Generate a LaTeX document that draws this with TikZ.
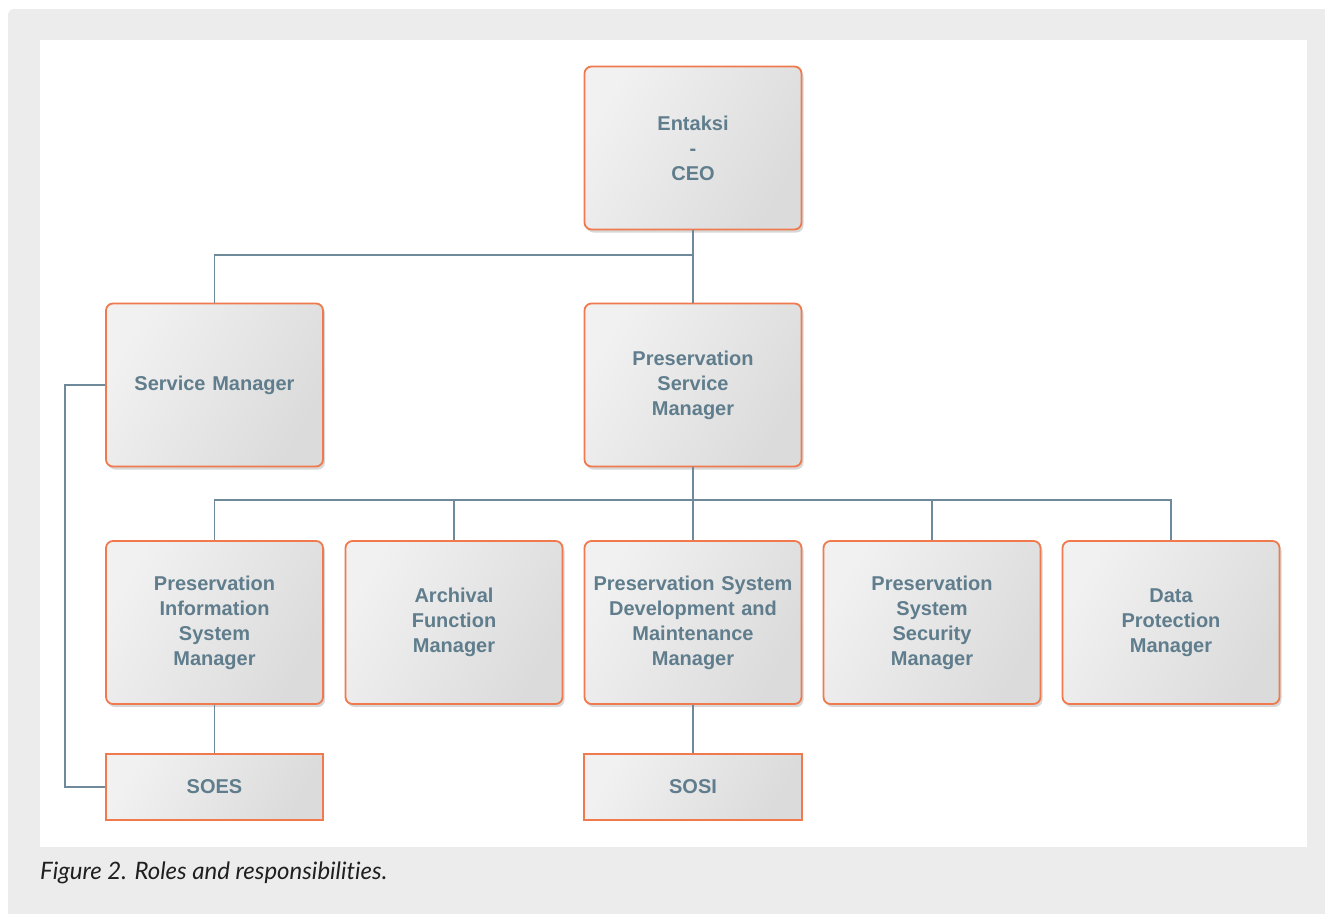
\documentclass[tikz,border=0pt]{standalone}
\usepackage{fontspec}
\newfontfamily\boxfont{Liberation Sans}
\newfontfamily\capfont[Ligatures=NoCommon]{Lato}
\usetikzlibrary{shadows}
\definecolor{bggray}{HTML}{ECECEC}
\definecolor{edgeor}{HTML}{F07A4E}
\definecolor{txtc}{HTML}{5F7D8C}
\definecolor{linec}{HTML}{6E8A9A}
\definecolor{fillA}{HTML}{F1F1F1}
\definecolor{fillB}{HTML}{DBDBDB}
\tikzset{
  gradfill/.style={path picture={\shade[left color=fillA, right color=fillB, shading angle=60]
      (path picture bounding box.south west) rectangle (path picture bounding box.north east);}},
  rolebox/.style={draw=edgeor, line width=1.8pt, rounded corners=7pt, gradfill,
    minimum width=217pt, minimum height=163pt, inner sep=0pt,
    text=txtc, align=center, text width=215pt,
    font=\boxfont\bfseries\fontsize{20}{25}\selectfont,
    drop shadow={shadow xshift=2pt, shadow yshift=-3pt, opacity=0.25, fill=black!60}},
  unitbox/.style={gradfill,
    minimum width=217pt, minimum height=65pt, inner sep=0pt,
    text=txtc, align=center,
    font=\boxfont\bfseries\fontsize{20}{25}\selectfont},
  unitedge/.style={draw=edgeor, line width=1.8pt},
  conn/.style={draw=linec, line width=1.5pt}
}
\begin{document}
\begin{tikzpicture}[x=1pt,y=-1pt]
\useasboundingbox (0,0) rectangle (1325,913);
\fill[bggray, rounded corners=6pt] (8,9) rectangle (1335,923);
\fill[white] (40,40) rectangle (1307,847);
\coordinate (busA) at (693,255);
\coordinate (busB) at (693,500);
\node[rolebox] (ceo) at (693,148) {Entaksi\\-\\CEO};
\node[rolebox] (sm) at (214.5,385) {Service Manager};
\node[rolebox] (psm) at (693,385) {Preservation\\Service\\Manager};
\node[rolebox] (pism) at (214.5,622.5) {Preservation\\Information\\System\\Manager};
\node[rolebox] (afm) at (454,622.5) {Archival\\Function\\Manager};
\node[rolebox] (psdm) at (693,622.5) {Preservation System\\Development and\\Maintenance\\Manager};
\node[rolebox] (pssm) at (932,622.5) {Preservation\\System\\Security\\Manager};
\node[rolebox] (dpm) at (1171,622.5) {Data\\Protection\\Manager};
\node[unitbox] (soes) at (214.5,787) {SOES};
\node[unitbox] (sosi) at (693,787) {SOSI};
\draw[unitedge] (soes.north west) rectangle (soes.south east);
\draw[unitedge] (sosi.north west) rectangle (sosi.south east);
\draw[conn] (ceo.south) -- (psm.north);
\draw[conn] (busA) -| (sm.north);
\draw[conn] (psm.south) -- (psdm.north);
\draw[conn] (busB) -| (pism.north);
\draw[conn] (busB) -| (afm.north);
\draw[conn] (busB) -| (pssm.north);
\draw[conn] (busB) -| (dpm.north);
\draw[conn] (pism.south) -- ([yshift=0.9pt]soes.north);
\draw[conn] (psdm.south) -- ([yshift=0.9pt]sosi.north);
\coordinate (lft) at (65,385);
\draw[conn] (sm.west) -- (lft) |- ([xshift=-0.9pt]soes.west);
\node[anchor=base west, inner sep=0pt, font=\capfont\itshape\fontsize{24}{28}\selectfont, text=black!88] (cap) at (40,879) {Figure 2. Roles and responsibilities.};
\end{tikzpicture}
\end{document}
